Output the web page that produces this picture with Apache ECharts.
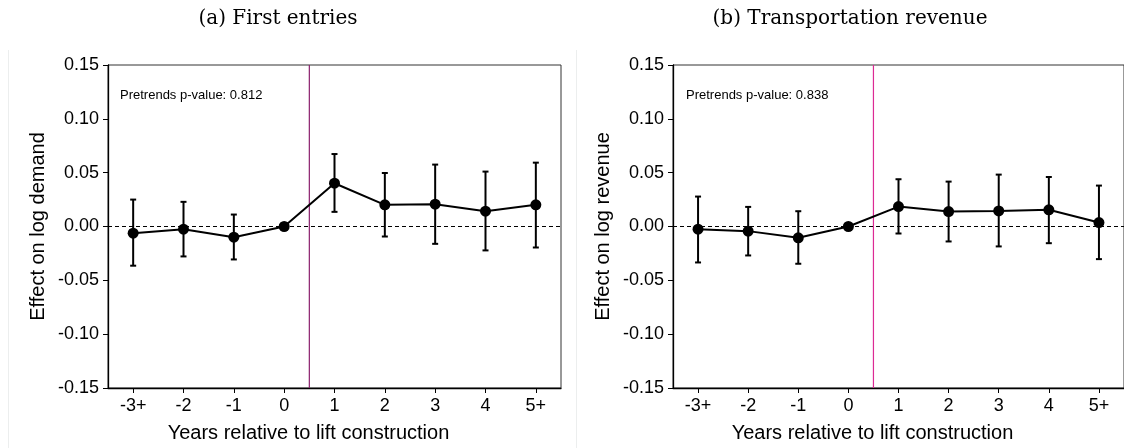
<!DOCTYPE html>
<html>
<head>
<meta charset="utf-8">
<script src="https://cdn.jsdelivr.net/npm/echarts@6/dist/echarts.min.js"></script>
<style>html,body{margin:0;padding:0;background:#fff}#c{width:1124px;height:448px}</style>
</head>
<body>
<div id="c"></div>
<script>
const categories = ['-3+','-2','-1','0','1','2','3','4','5+'];
const yTicks = [-0.15,-0.10,-0.05,0.00,0.05,0.10,0.15];
// Panel (a) First entries
const estA = [-0.0062,-0.0025,-0.0099,0,0.0402,0.0201,0.0207,0.0142,0.0201];
const hiA  = [0.0250,0.0229,0.0111,null,0.0673,0.0497,0.0575,0.0510,0.0593];
const loA  = [-0.0364,-0.0278,-0.0306,null,0.0136,-0.0093,-0.0161,-0.0222,-0.0195];
// Panel (b) Transportation revenue
const estB = [-0.0025,-0.0043,-0.0105,0,0.0185,0.0139,0.0145,0.0155,0.0037];
const hiB  = [0.0278,0.0182,0.0142,null,0.0439,0.0417,0.0482,0.0460,0.0380];
const loB  = [-0.0334,-0.0269,-0.0346,null,-0.0065,-0.0139,-0.0185,-0.0155,-0.0303];
const titles = ['(a) First entries','(b) Transportation revenue'];
const yNames = ['Effect on log demand','Effect on log revenue'];
const xName = 'Years relative to lift construction';
const pretrends = ['Pretrends p-value: 0.812','Pretrends p-value: 0.838'];
const eventLine = 3.5; // between 0 and 1
const vlineColors = ['#8a1f6c','#dc2a95'];

const chart = echarts.init(document.getElementById('c'));
const FONT = 'Liberation Sans, Arial, sans-serif';
const grids = [
  {left:108, top:65, width:453, height:323, show:true, borderColor:'#333', borderWidth:1, backgroundColor:'transparent'},
  {left:673, top:65, width:453, height:323, show:true, borderColor:'#333', borderWidth:1, backgroundColor:'transparent'}
];
const xAxes = [], yAxes = [], series = [];
[0,1].forEach(i=>{
  xAxes.push({
    type:'category', gridIndex:i, data:categories, boundaryGap:true,
    axisLine:{show:true,onZero:false,lineStyle:{color:'#000',width:1.3}},
    axisTick:{show:true,alignWithLabel:true,length:5,lineStyle:{color:'#000'}},
    axisLabel:{color:'#000',fontFamily:FONT,fontSize:18,margin:9},
    name:xName, nameLocation:'middle', nameGap:35,
    nameTextStyle:{color:'#000',fontFamily:FONT,fontSize:20,padding:[0,52,0,0]},
    splitLine:{show:false}
  });
  xAxes.push({
    type:'value', gridIndex:i, min:-0.5, max:8.5, show:false,
    axisLine:{onZero:false}
  });
  yAxes.push({
    type:'value', gridIndex:i, min:-0.15, max:0.15, interval:0.05,
    axisLine:{show:true,onZero:false,lineStyle:{color:'#000',width:1.3}},
    axisTick:{show:true,length:5,lineStyle:{color:'#000'}},
    axisLabel:{color:'#000',fontFamily:FONT,fontSize:18,margin:9,formatter:v=>v.toFixed(2)},
    splitLine:{show:false},
    name:yNames[i], nameLocation:'middle', nameGap:60,
    nameTextStyle:{color:'#000',fontFamily:FONT,fontSize:20}
  });
});
const est=[estA,estB], hi=[hiA,hiB], lo=[loA,loB];
[0,1].forEach(i=>{
  // event vertical line
  series.push({
    type:'line', xAxisIndex:i*2+1, yAxisIndex:i, symbol:'none', silent:true,
    data:[[eventLine,-0.15],[eventLine,0.15]],
    lineStyle:{color:vlineColors[i],width:1.2}, z:1
  });
  // error bars
  series.push({
    type:'custom', xAxisIndex:i*2, yAxisIndex:i, z:3,
    data: categories.map((c,k)=>[k, lo[i][k], hi[i][k]]).filter(d=>d[1]!==null),
    renderItem:(params,api)=>{
      const x=api.value(0);
      const p1=api.coord([x,api.value(1)]), p2=api.coord([x,api.value(2)]);
      const cw=3;
      const st={stroke:'#000',lineWidth:2};
      return {type:'group',children:[
        {type:'line',shape:{x1:p1[0],y1:p1[1],x2:p2[0],y2:p2[1]},style:st},
        {type:'line',shape:{x1:p1[0]-cw,y1:p1[1],x2:p1[0]+cw,y2:p1[1]},style:st},
        {type:'line',shape:{x1:p2[0]-cw,y1:p2[1],x2:p2[0]+cw,y2:p2[1]},style:st}
      ]};
    }
  });
  // point estimates
  series.push({
    type:'line', xAxisIndex:i*2, yAxisIndex:i, data:est[i], z:4,
    symbol:'circle', symbolSize:11, showSymbol:true,
    itemStyle:{color:'#000'}, lineStyle:{color:'#000',width:2},
    markLine:{silent:true,symbol:'none',label:{show:false},
      lineStyle:{color:'#000',type:[4,3],width:1.2},
      data:[{yAxis:0}]}
  });
});
chart.setOption({
  animation:false,
  grid:grids, xAxis:xAxes, yAxis:yAxes, series:series,
  title:[
    {text:titles[0], left:273, top:4, textAlign:'center',
     textStyle:{fontFamily:'DejaVu Serif, serif',fontSize:20,fontWeight:'normal',color:'#000'}},
    {text:titles[1], left:845, top:4, textAlign:'center',
     textStyle:{fontFamily:'DejaVu Serif, serif',fontSize:20,fontWeight:'normal',color:'#000'}}
  ],
  graphic:[
    {type:'line',shape:{x1:8.5,y1:50,x2:8.5,y2:448},style:{stroke:'#eceeee',lineWidth:1}},
    {type:'line',shape:{x1:576.5,y1:50,x2:576.5,y2:448},style:{stroke:'#eceeee',lineWidth:1}},
    {type:'text',left:120,top:89,style:{text:pretrends[0],fontFamily:FONT,fontSize:13,fill:'#000'}},
    {type:'text',left:686,top:89,style:{text:pretrends[1],fontFamily:FONT,fontSize:13,fill:'#000'}}
  ]
});
</script>
</body>
</html>
